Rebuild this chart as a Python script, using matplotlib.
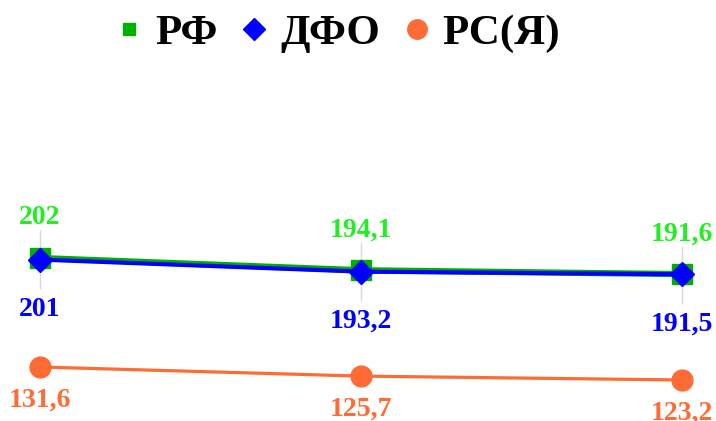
import matplotlib.pyplot as plt
from matplotlib.lines import Line2D

plt.rcParams['font.family'] = ['Liberation Serif', 'DejaVu Serif']
plt.rcParams['font.weight'] = 'bold'

years = [0, 1, 2]
rf = [202, 194.1, 191.6]
dfo = [201, 193.2, 191.5]
rsya = [131.6, 125.7, 123.2]
names = ['РФ', 'ДФО', 'РС(Я)']


def fmt(v):
    return ('%g' % v).replace('.', ',')


green = '#00B000'
green_txt = '#22EE22'
blue = '#0000FF'
orange = '#FF6B35'

fig = plt.figure(figsize=(7.16, 4.21), dpi=100)
ax = fig.add_axes([0, 0, 1, 1])
ax.set_xlim(-40 / 321, 2 + 34 / 321)
ax.set_ylim(96.7, 368.7)
ax.axis('off')

# leader lines between the upper and lower labels
ax.vlines(years, [d - 19 for d in dfo], [r + 18 for r in rf],
          color='#d9d9d9', lw=1, zorder=1)

ax.plot(years, rf, color=green, lw=4.5, marker='s', ms=14, zorder=2)
ax.plot(years, dfo, color=blue, lw=3, marker='D', ms=12.5, zorder=3)
ax.plot(years, rsya, color=orange, lw=2.3, marker='o', ms=15, zorder=2)

for x, a, b, c in zip(years, rf, dfo, rsya):
    ax.annotate(fmt(a), (x, a), xytext=(0, 29), textcoords='offset points',
                ha='center', va='center', color=green_txt, fontsize=20, fontweight='bold')
    ax.annotate(fmt(b), (x, b), xytext=(0, -36), textcoords='offset points',
                ha='center', va='center', color=blue, fontsize=20, fontweight='bold')
    ax.annotate(fmt(c), (x, c), xytext=(0, -24), textcoords='offset points',
                ha='center', va='center', color=orange, fontsize=20, fontweight='bold')

handles = [
    Line2D([], [], ls='none', marker='s', ms=9, color=green),
    Line2D([], [], ls='none', marker='D', ms=11, color=blue),
    Line2D([], [], ls='none', marker='o', ms=14, color=orange),
]
fig.legend(handles, names, loc='center', bbox_to_anchor=(0.468, 0.92), ncol=3,
           frameon=False, prop={'size': 31, 'weight': 'bold'},
           handletextpad=0.15, columnspacing=0.4, handlelength=0.9)

fig.savefig('out.png', dpi=100)
